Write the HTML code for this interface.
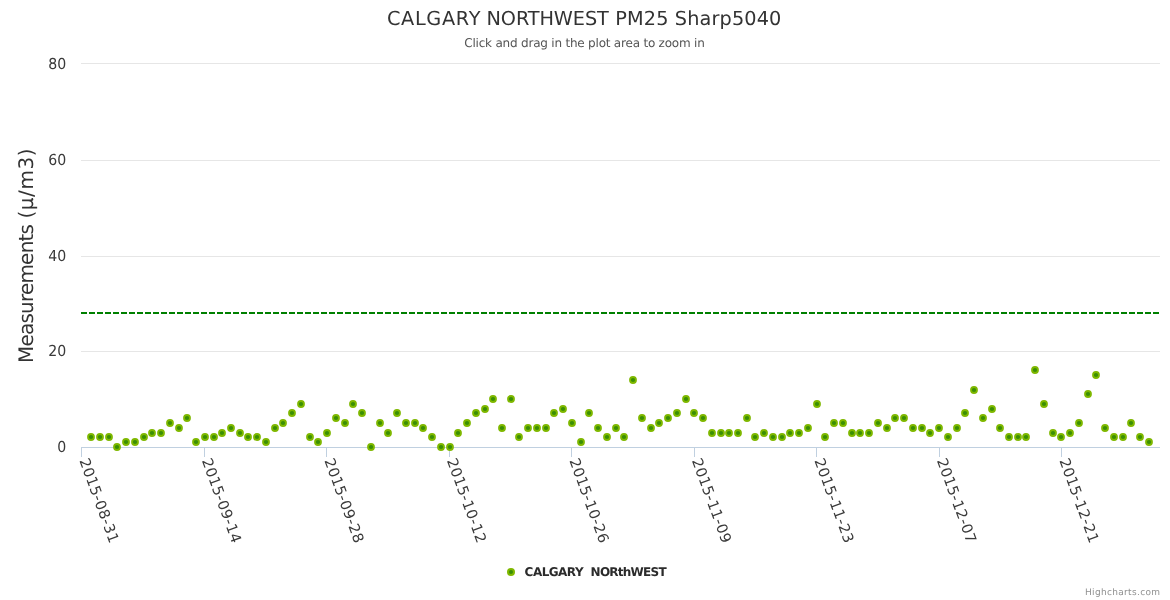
<!DOCTYPE html>
<html><head><meta charset="utf-8"><title>CALGARY NORTHWEST PM25 Sharp5040</title>
<style>
html,body{margin:0;padding:0;background:#fff;}
body{width:1170px;height:600px;overflow:hidden;}
svg{display:block;font-family:"DejaVu Sans","Liberation Sans",sans-serif;text-rendering:geometricPrecision;}
</style></head><body>
<svg width="1170" height="600" viewBox="0 0 1170 600">
<rect x="0" y="0" width="1170" height="600" fill="#ffffff"/>

<g stroke="#E6E6E6" stroke-width="1" shape-rendering="crispEdges">
<line x1="81" x2="1160" y1="63.5" y2="63.5"/>
<line x1="81" x2="1160" y1="160.5" y2="160.5"/>
<line x1="81" x2="1160" y1="256.5" y2="256.5"/>
<line x1="81" x2="1160" y1="351.5" y2="351.5"/>
</g>
<g stroke="#C0D0E0" stroke-width="1" shape-rendering="crispEdges">
<line x1="81" x2="1160" y1="447.5" y2="447.5"/>
<line x1="81.5" x2="81.5" y1="447.5" y2="457"/>
<line x1="204.5" x2="204.5" y1="447.5" y2="457"/>
<line x1="326.5" x2="326.5" y1="447.5" y2="457"/>
<line x1="449.5" x2="449.5" y1="447.5" y2="457"/>
<line x1="571.5" x2="571.5" y1="447.5" y2="457"/>
<line x1="694.5" x2="694.5" y1="447.5" y2="457"/>
<line x1="816.5" x2="816.5" y1="447.5" y2="457"/>
<line x1="939.5" x2="939.5" y1="447.5" y2="457"/>
<line x1="1061.5" x2="1061.5" y1="447.5" y2="457"/>
</g>
<line x1="81" x2="1160" y1="313" y2="313" stroke="#008000" stroke-width="2" stroke-dasharray="6,2"/>
<g fill="#3a8f04" stroke="#7fb800" stroke-width="1.8">
<circle cx="91" cy="437" r="3"/>
<circle cx="100" cy="437" r="3"/>
<circle cx="109" cy="437" r="3"/>
<circle cx="117" cy="447" r="3"/>
<circle cx="126" cy="442" r="3"/>
<circle cx="135" cy="442" r="3"/>
<circle cx="144" cy="437" r="3"/>
<circle cx="152" cy="433" r="3"/>
<circle cx="161" cy="433" r="3"/>
<circle cx="170" cy="423" r="3"/>
<circle cx="179" cy="428" r="3"/>
<circle cx="187" cy="418" r="3"/>
<circle cx="196" cy="442" r="3"/>
<circle cx="205" cy="437" r="3"/>
<circle cx="214" cy="437" r="3"/>
<circle cx="222" cy="433" r="3"/>
<circle cx="231" cy="428" r="3"/>
<circle cx="240" cy="433" r="3"/>
<circle cx="248" cy="437" r="3"/>
<circle cx="257" cy="437" r="3"/>
<circle cx="266" cy="442" r="3"/>
<circle cx="275" cy="428" r="3"/>
<circle cx="283" cy="423" r="3"/>
<circle cx="292" cy="413" r="3"/>
<circle cx="301" cy="404" r="3"/>
<circle cx="310" cy="437" r="3"/>
<circle cx="318" cy="442" r="3"/>
<circle cx="327" cy="433" r="3"/>
<circle cx="336" cy="418" r="3"/>
<circle cx="345" cy="423" r="3"/>
<circle cx="353" cy="404" r="3"/>
<circle cx="362" cy="413" r="3"/>
<circle cx="371" cy="447" r="3"/>
<circle cx="380" cy="423" r="3"/>
<circle cx="388" cy="433" r="3"/>
<circle cx="397" cy="413" r="3"/>
<circle cx="406" cy="423" r="3"/>
<circle cx="415" cy="423" r="3"/>
<circle cx="423" cy="428" r="3"/>
<circle cx="432" cy="437" r="3"/>
<circle cx="441" cy="447" r="3"/>
<circle cx="450" cy="447" r="3"/>
<circle cx="458" cy="433" r="3"/>
<circle cx="467" cy="423" r="3"/>
<circle cx="476" cy="413" r="3"/>
<circle cx="485" cy="409" r="3"/>
<circle cx="493" cy="399" r="3"/>
<circle cx="502" cy="428" r="3"/>
<circle cx="511" cy="399" r="3"/>
<circle cx="519" cy="437" r="3"/>
<circle cx="528" cy="428" r="3"/>
<circle cx="537" cy="428" r="3"/>
<circle cx="546" cy="428" r="3"/>
<circle cx="554" cy="413" r="3"/>
<circle cx="563" cy="409" r="3"/>
<circle cx="572" cy="423" r="3"/>
<circle cx="581" cy="442" r="3"/>
<circle cx="589" cy="413" r="3"/>
<circle cx="598" cy="428" r="3"/>
<circle cx="607" cy="437" r="3"/>
<circle cx="616" cy="428" r="3"/>
<circle cx="624" cy="437" r="3"/>
<circle cx="633" cy="380" r="3"/>
<circle cx="642" cy="418" r="3"/>
<circle cx="651" cy="428" r="3"/>
<circle cx="659" cy="423" r="3"/>
<circle cx="668" cy="418" r="3"/>
<circle cx="677" cy="413" r="3"/>
<circle cx="686" cy="399" r="3"/>
<circle cx="694" cy="413" r="3"/>
<circle cx="703" cy="418" r="3"/>
<circle cx="712" cy="433" r="3"/>
<circle cx="721" cy="433" r="3"/>
<circle cx="729" cy="433" r="3"/>
<circle cx="738" cy="433" r="3"/>
<circle cx="747" cy="418" r="3"/>
<circle cx="755" cy="437" r="3"/>
<circle cx="764" cy="433" r="3"/>
<circle cx="773" cy="437" r="3"/>
<circle cx="782" cy="437" r="3"/>
<circle cx="790" cy="433" r="3"/>
<circle cx="799" cy="433" r="3"/>
<circle cx="808" cy="428" r="3"/>
<circle cx="817" cy="404" r="3"/>
<circle cx="825" cy="437" r="3"/>
<circle cx="834" cy="423" r="3"/>
<circle cx="843" cy="423" r="3"/>
<circle cx="852" cy="433" r="3"/>
<circle cx="860" cy="433" r="3"/>
<circle cx="869" cy="433" r="3"/>
<circle cx="878" cy="423" r="3"/>
<circle cx="887" cy="428" r="3"/>
<circle cx="895" cy="418" r="3"/>
<circle cx="904" cy="418" r="3"/>
<circle cx="913" cy="428" r="3"/>
<circle cx="922" cy="428" r="3"/>
<circle cx="930" cy="433" r="3"/>
<circle cx="939" cy="428" r="3"/>
<circle cx="948" cy="437" r="3"/>
<circle cx="957" cy="428" r="3"/>
<circle cx="965" cy="413" r="3"/>
<circle cx="974" cy="390" r="3"/>
<circle cx="983" cy="418" r="3"/>
<circle cx="992" cy="409" r="3"/>
<circle cx="1000" cy="428" r="3"/>
<circle cx="1009" cy="437" r="3"/>
<circle cx="1018" cy="437" r="3"/>
<circle cx="1026" cy="437" r="3"/>
<circle cx="1035" cy="370" r="3"/>
<circle cx="1044" cy="404" r="3"/>
<circle cx="1053" cy="433" r="3"/>
<circle cx="1061" cy="437" r="3"/>
<circle cx="1070" cy="433" r="3"/>
<circle cx="1079" cy="423" r="3"/>
<circle cx="1088" cy="394" r="3"/>
<circle cx="1096" cy="375" r="3"/>
<circle cx="1105" cy="428" r="3"/>
<circle cx="1114" cy="437" r="3"/>
<circle cx="1123" cy="437" r="3"/>
<circle cx="1131" cy="423" r="3"/>
<circle cx="1140" cy="437" r="3"/>
<circle cx="1149" cy="442" r="3"/>
</g>
<text y="24.7" font-size="19.3" fill="#333333"><tspan x="386.9" letter-spacing="0.68">CALGARY</tspan> <tspan x="486.5" letter-spacing="-0.1">NORTHWEST</tspan> <tspan x="615.27" letter-spacing="0.125">PM25 Sharp5040</tspan></text>
<text x="464.3" y="46.6" font-size="12" fill="#555555" textLength="240.5" lengthAdjust="spacing">Click and drag in the plot area to zoom in</text>
<g font-size="15.2" fill="#3a3a3a" text-anchor="end">
<text transform="translate(66.3 452) scale(0.93 1)">0</text>
<text transform="translate(66.3 356) scale(0.93 1)">20</text>
<text transform="translate(66.3 260.5) scale(0.93 1)">40</text>
<text transform="translate(66.3 165) scale(0.93 1)">60</text>
<text transform="translate(66.3 69.2) scale(0.93 1)">80</text>
</g>
<text transform="translate(33 363) rotate(-90)" font-size="20" fill="#333333"><tspan x="0" textLength="139" lengthAdjust="spacing">Measurements</tspan> <tspan x="144.5" textLength="70" lengthAdjust="spacing">(µ/m3)</tspan></text>
<g font-size="14.6" fill="#3a3a3a">
<text x="79.3" y="460.5" transform="rotate(70 79.3 460.5)" textLength="88.8" lengthAdjust="spacing">2015-08-31</text>
<text x="201.8" y="460.5" transform="rotate(70 201.8 460.5)" textLength="88.8" lengthAdjust="spacing">2015-09-14</text>
<text x="324.3" y="460.5" transform="rotate(70 324.3 460.5)" textLength="88.8" lengthAdjust="spacing">2015-09-28</text>
<text x="446.8" y="460.5" transform="rotate(70 446.8 460.5)" textLength="88.8" lengthAdjust="spacing">2015-10-12</text>
<text x="569.3" y="460.5" transform="rotate(70 569.3 460.5)" textLength="88.8" lengthAdjust="spacing">2015-10-26</text>
<text x="691.8" y="460.5" transform="rotate(70 691.8 460.5)" textLength="88.8" lengthAdjust="spacing">2015-11-09</text>
<text x="814.3" y="460.5" transform="rotate(70 814.3 460.5)" textLength="88.8" lengthAdjust="spacing">2015-11-23</text>
<text x="936.8" y="460.5" transform="rotate(70 936.8 460.5)" textLength="88.8" lengthAdjust="spacing">2015-12-07</text>
<text x="1059.3" y="460.5" transform="rotate(70 1059.3 460.5)" textLength="88.8" lengthAdjust="spacing">2015-12-21</text>
</g>
<circle cx="511" cy="572" r="3" fill="#3a8f04" stroke="#7fb800" stroke-width="2"/>
<text x="524.6" y="576" font-size="12" font-weight="bold" fill="#2b2b2b"><tspan textLength="59" lengthAdjust="spacing">CALGARY</tspan> <tspan x="590.6" textLength="76" lengthAdjust="spacing">NORthWEST</tspan></text>
<text x="1160" y="595" text-anchor="end" font-size="9" fill="#909090" textLength="75" lengthAdjust="spacing">Highcharts.com</text>
</svg></body></html>
